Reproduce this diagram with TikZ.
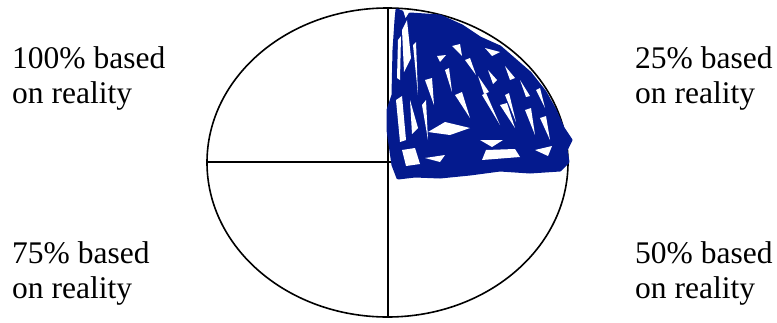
\documentclass[tikz,border=0pt]{standalone}
\usepackage{fontspec}
\setmainfont{Liberation Serif}
\usetikzlibrary{shapes.geometric}
\definecolor{scribble}{RGB}{4,26,142}
\tikzset{
  label/.style={anchor=north west, inner sep=0pt, align=left, font=\fontsize{31.5}{34.5}\selectfont},
  outline/.style={line width=1.6pt, black},
  gap/.style={fill=white, draw=none}
}
\begin{document}
\begin{tikzpicture}[x=1pt,y=-1pt]
\useasboundingbox (0,0) rectangle (777,322);
% ellipse and axes
\node[draw, outline, ellipse, minimum width=361pt, minimum height=309pt, inner sep=0pt] (oval) at (387.5,162.5) {};
\coordinate (top) at (388,8);
\coordinate (bottom) at (388,317);
\coordinate (left) at (207,162);
\coordinate (right) at (568,162);
\draw[outline] (top) -- (bottom);
\draw[outline] (left) -- (right);
% quadrant scribble
\fill[scribble, draw=scribble, line width=3pt, line join=round]
 (397,10) -- (402,12) -- (405,22) -- (410,14) -- (440,16) -- (462,26) -- (480,38)
 -- (500,47) -- (515,60) -- (530,73) -- (545,92) -- (555,110) -- (563,128)
 -- (571,140) -- (566,150) -- (568,162) -- (560,170) -- (530,172) -- (500,170)
 -- (470,174) -- (440,177) -- (415,176) -- (398,178) -- (393,165) -- (388,130)
 -- (388,110) -- (393,95) -- (394,50) -- (396,20) -- cycle;
% white gaps in the scribble
\fill[gap] (402,30) -- (407,20) -- (411,58) -- (404,72) -- cycle;
\fill[gap] (398,40) -- (401,36) -- (400,80) -- (397,78) -- cycle;
\fill[gap] (413,45) -- (416,42) -- (418,95) -- cycle;
\fill[gap] (452,46) -- (460,44) -- (462,56) -- cycle;
\fill[gap] (437,56) -- (446,55) -- (440,62) -- cycle;
\fill[gap] (485,48) -- (500,52) -- (492,56) -- cycle;
\fill[gap] (488,70) -- (497,80) -- (493,84) -- cycle;
\fill[gap] (478,76) -- (489,92) -- (484,94) -- cycle;
\fill[gap] (505,66) -- (515,78) -- (510,80) -- cycle;
\fill[gap] (520,80) -- (530,96) -- (526,97) -- cycle;
\fill[gap] (536,90) -- (540,88) -- (545,108) -- cycle;
\fill[gap] (396,100) -- (402,96) -- (406,140) -- (400,142) -- cycle;
\fill[gap] (410,100) -- (418,128) -- (412,134) -- cycle;
\fill[gap] (422,105) -- (426,100) -- (428,140) -- cycle;
\fill[gap] (428,132) -- (445,122) -- (470,128) -- (450,135) -- cycle;
\fill[gap] (402,150) -- (415,148) -- (420,164) -- (406,166) -- cycle;
\fill[gap] (425,158) -- (445,155) -- (440,162) -- cycle;
\fill[gap] (480,140) -- (503,140) -- (492,147) -- cycle;
\fill[gap] (486,150) -- (515,149) -- (520,157) -- (482,160) -- cycle;
\fill[gap] (482,95) -- (486,93) -- (500,125) -- cycle;
\fill[gap] (505,95) -- (509,93) -- (516,122) -- cycle;
\fill[gap] (525,110) -- (531,108) -- (535,135) -- cycle;
\fill[gap] (540,118) -- (546,116) -- (550,140) -- cycle;
\fill[gap] (455,95) -- (462,92) -- (470,118) -- cycle;
\fill[gap] (425,80) -- (432,78) -- (434,105) -- cycle;
\fill[gap] (445,70) -- (449,68) -- (452,92) -- cycle;
\fill[gap] (500,105) -- (507,103) -- (515,128) -- cycle;
\fill[gap] (535,150) -- (552,146) -- (548,156) -- cycle;
\fill[gap] (465,60) -- (470,58) -- (476,75) -- cycle;
% labels
\node[label] (tl) at (12,46.5) {100\% based\\on reality};
\node[label] (tr) at (635,46.5) {25\% based\\on reality};
\node[label] (bl) at (12,241.5) {75\% based\\on reality};
\node[label] (br) at (635,241.5) {50\% based\\on reality};
\end{tikzpicture}
\end{document}
